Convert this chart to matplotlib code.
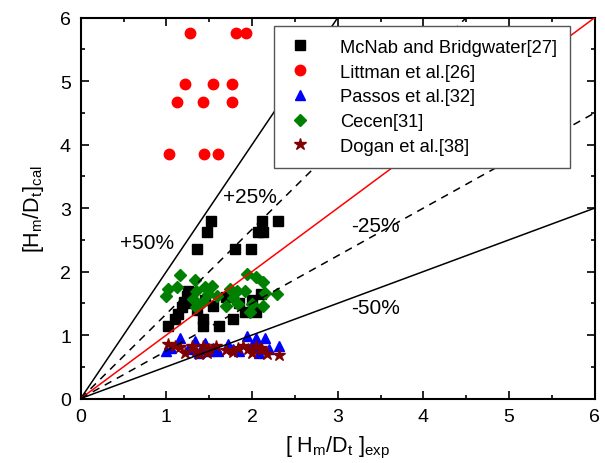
import numpy as np
import matplotlib.pyplot as plt

plt.rcParams['font.family'] = ['Liberation Sans', 'DejaVu Sans']
plt.rcParams['mathtext.fontset'] = 'custom'
plt.rcParams['mathtext.rm'] = 'Liberation Sans'
plt.rcParams['mathtext.it'] = 'Liberation Sans'
plt.rcParams['mathtext.default'] = 'regular'

# Dados
mcnab_x = [1.02, 1.10, 1.14, 1.18, 1.20, 1.24, 1.30, 1.36, 1.43, 1.43, 1.52, 1.48, 1.61, 1.78, 1.80,
           1.92, 1.99, 2.05, 2.07, 2.12, 2.13, 2.30, 1.36, 1.45, 1.55, 1.70, 1.85, 2.00, 2.10, 1.25]
mcnab_y = [1.15, 1.25, 1.33, 1.44, 1.52, 1.62, 1.50, 2.35, 1.25, 1.15, 2.80, 2.63, 1.15, 1.25, 2.35,
           1.36, 2.35, 1.36, 2.63, 2.80, 2.63, 2.80, 1.40, 1.55, 1.45, 1.60, 1.50, 1.55, 1.65, 1.70]

littman_x = [1.27, 1.81, 1.93, 1.22, 1.54, 1.77, 1.12, 1.43, 1.77, 1.03, 1.44, 1.60]
littman_y = [5.76, 5.76, 5.76, 4.95, 4.95, 4.95, 4.67, 4.67, 4.67, 3.86, 3.86, 3.86]

passos_x = [1.00, 1.05, 1.16, 1.25, 1.33, 1.40, 1.45, 1.50, 1.55, 1.72, 1.78, 1.85, 1.94, 2.00,
            2.05, 2.10, 2.15, 2.20, 2.31, 1.38, 1.60, 2.08]
passos_y = [0.75, 0.80, 0.96, 0.78, 0.91, 0.78, 0.88, 0.75, 0.80, 0.86, 0.78, 0.75, 0.99, 0.85,
            0.96, 0.80, 0.96, 0.78, 0.83, 0.72, 0.75, 0.72]

cecen_x = [1.16, 1.02, 1.12, 1.00, 1.33, 1.35, 1.45, 1.49, 1.53, 1.35, 1.43, 1.31, 1.59, 1.94,
           2.05, 2.13, 1.82, 1.78, 1.92, 1.84, 2.00, 2.13, 2.29, 1.98, 2.15, 1.70, 1.74]
cecen_y = [1.94, 1.73, 1.75, 1.62, 1.86, 1.70, 1.75, 1.65, 1.78, 1.44, 1.52, 1.57, 1.62, 1.96,
           1.91, 1.83, 1.70, 1.59, 1.70, 1.49, 1.49, 1.46, 1.65, 1.36, 1.67, 1.46, 1.73]

dogan_x = [1.02, 1.10, 1.16, 1.22, 1.30, 1.38, 1.43, 1.50, 1.58, 1.70, 1.78, 1.84, 1.95, 2.00,
           2.05, 2.12, 2.18, 2.31, 1.35, 1.48, 1.90, 2.10]
dogan_y = [0.86, 0.82, 0.81, 0.72, 0.82, 0.70, 0.83, 0.78, 0.82, 0.76, 0.73, 0.80, 0.78, 0.72,
           0.82, 0.76, 0.70, 0.68, 0.75, 0.72, 0.82, 0.80]

# linhas de desvio: fator e estilo
fatores = [2.0, 4 / 3, 1.0, 0.75, 0.5]
estilos = [('k', '-'), ('k', '--'), ('r', '-'), ('k', '--'), ('k', '-')]
rotulos = ['+50%', '+25%', '-25%', '-50%']
rot_x = [0.78, 1.98, 3.44, 3.44]
rot_y = [2.46, 3.19, 2.72, 1.44]

fig = plt.figure(figsize=(6.05, 4.64), dpi=100)
ax = fig.add_axes([0.1334, 0.139, 0.8496, 0.8207])

xs = np.array([0, 6])
for f, (c, ls) in zip(fatores, estilos):
    ax.plot(xs, f * xs, color=c, linestyle=ls, linewidth=1.1, zorder=5,
            dashes=(5, 4) if ls == '--' else (None, None))

ax.plot(mcnab_x, mcnab_y, 's', color='k', markersize=6.5, linestyle='none',
        label='McNab and Bridgwater[27]', zorder=2)
ax.plot(littman_x, littman_y, 'o', color='#ff0000', markersize=7.5, linestyle='none',
        label='Littman et al.[26]', zorder=2)
ax.plot(passos_x, passos_y, '^', color='#0000ff', markersize=7, linestyle='none',
        label='Passos et al.[32]', zorder=3)
ax.plot(cecen_x, cecen_y, 'D', color='#008000', markersize=6.5, linestyle='none',
        label='Cecen[31]', zorder=3)
ax.plot(dogan_x, dogan_y, '*', color='#800000', markersize=9, linestyle='none',
        label='Dogan et al.[38]', zorder=4)

for t, x, y in zip(rotulos, rot_x, rot_y):
    ax.text(x, y, t, fontsize=15, ha='center', va='center', zorder=6)

ax.set_xlim(0, 6)
ax.set_ylim(0, 6)
ax.set_xticks(range(7))
ax.set_yticks(range(7))
ax.set_xticks(np.arange(0.5, 6, 1), minor=True)
ax.set_yticks(np.arange(0.5, 6, 1), minor=True)
ax.tick_params(which='both', direction='in', top=True, right=True, labelsize=14, width=1.2)
ax.tick_params(which='major', length=6, pad=7)
ax.tick_params(which='minor', length=3)
for s in ax.spines.values():
    s.set_linewidth(1.5)

ax.set_xlabel(r'[ H$_m$/D$_t$ ]$_{exp}$', fontsize=15.5, labelpad=6)
ax.set_ylabel(r'[H$_m$/D$_t$]$_{cal}$', fontsize=15.5, labelpad=10)

leg = ax.legend(loc='upper right', bbox_to_anchor=(0.952, 0.978), borderaxespad=0,
                fontsize=13.2, frameon=True, fancybox=False, edgecolor='#555555',
                framealpha=1, handletextpad=1.5, labelspacing=0.42, borderpad=0.7,
                handlelength=1.4)
leg.get_frame().set_linewidth(1.0)
leg.set_zorder(10)

fig.savefig('out.png', dpi=100)
